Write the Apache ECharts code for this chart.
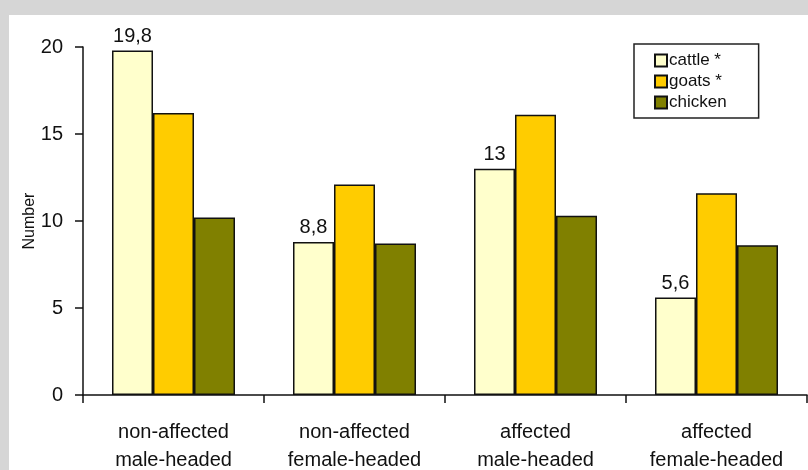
<!DOCTYPE html>
<html>
<head>
<meta charset="utf-8">
<script src="https://cdn.jsdelivr.net/npm/echarts@6/dist/echarts.min.js"></script>
<style>
  html, body { margin: 0; padding: 0; background: #d6d6d6; }
  #chart { width: 808px; height: 470px; }
</style>
</head>
<body>
<div id="chart"></div>
<script>
// Household groups on the category axis
const categories = [
  'non-affected\nmale-headed',
  'non-affected\nfemale-headed',
  'affected\nmale-headed',
  'affected\nfemale-headed'
];

// Mean number of animals per household
const cattle  = [19.8, 8.8, 13, 5.6];
const goats   = [16.2, 12.1, 16.1, 11.6];
const chicken = [10.2, 8.7, 10.3, 8.6];

// Value axis ticks
const yTicks = [0, 5, 10, 15, 20];

const FONT = '"Liberation Sans", Arial, sans-serif';

const chart = echarts.init(document.getElementById('chart'), null, { renderer: 'canvas' });

function barSeries(name, data, color, withLabel) {
  return {
    name: name,
    type: 'bar',
    data: data,
    barWidth: 41,
    barGap: '0%',
    itemStyle: { color: color, borderColor: '#111', borderWidth: 1.5 },
    emphasis: { disabled: true },
    label: withLabel ? {
      show: true,
      position: 'top',
      distance: 4,
      color: '#111',
      fontFamily: FONT,
      fontSize: 20,
      formatter: p => String(p.value).replace('.', ',')
    } : { show: false }
  };
}

chart.setOption({
  backgroundColor: '#d6d6d6',
  animation: false,
  graphic: [{
    type: 'rect',
    z: -10,
    shape: { x: 9, y: 15, width: 799, height: 455 },
    style: { fill: '#ffffff' }
  }],
  grid: { left: 83, right: 1, top: 47, bottom: 75, containLabel: false, outerBoundsMode: 'none' },
  legend: {
    orient: 'vertical',
    left: 634,
    top: 44,
    padding: [8, 32, 7, 20],
    icon: 'rect',
    itemWidth: 12,
    itemHeight: 12,
    itemGap: 4,
    backgroundColor: '#ffffff',
    borderColor: '#222',
    borderWidth: 1.5,
    textStyle: { fontFamily: FONT, fontSize: 17, color: '#111', lineHeight: 17, padding: [0, 0, 0, -3] },
    data: ['cattle *', 'goats *', 'chicken']
  },
  xAxis: {
    type: 'category',
    data: categories,
    axisLine: { lineStyle: { color: '#111', width: 1.5 } },
    axisTick: { show: true, length: 8, lineStyle: { color: '#111', width: 1.5 } },
    axisLabel: {
      margin: 23,
      color: '#111',
      fontFamily: FONT,
      fontSize: 20,
      lineHeight: 28
    }
  },
  yAxis: {
    type: 'value',
    min: yTicks[0],
    max: yTicks[yTicks.length - 1],
    interval: 5,
    name: 'Number',
    nameLocation: 'middle',
    nameRotate: 90,
    nameGap: 45,
    nameMoveOverlap: false,
    nameTextStyle: { fontFamily: FONT, fontSize: 16, color: '#111' },
    splitLine: { show: false },
    axisLine: { show: true, lineStyle: { color: '#111', width: 1.5 } },
    axisTick: { show: true, length: 8, lineStyle: { color: '#111', width: 1.5 } },
    axisLabel: {
      margin: 20,
      color: '#111',
      fontFamily: FONT,
      fontSize: 20
    }
  },
  series: [
    barSeries('cattle *', cattle, '#ffffcc', true),
    barSeries('goats *', goats, '#ffcc00', false),
    barSeries('chicken', chicken, '#808000', false)
  ]
});
</script>
</body>
</html>
